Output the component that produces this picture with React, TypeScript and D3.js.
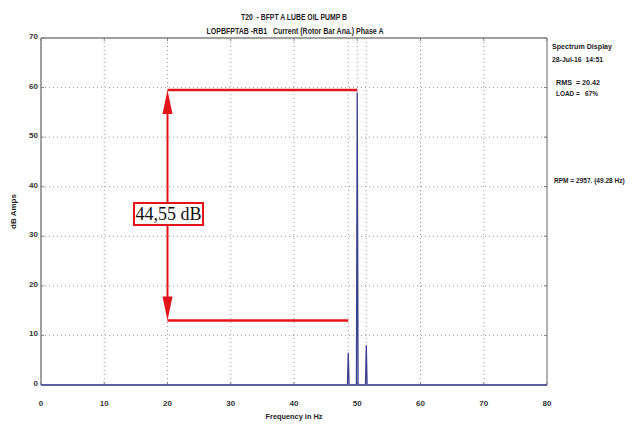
import * as d3 from 'd3'

// spectrum (Hz, dB)
const freqs = [0, 48.45, 48.58, 48.71, 49.87, 50.0, 50.13, 51.3, 51.43, 51.56, 80]
const amps = [0, 0, 6.5, 0, 0, 59, 0, 0, 8, 0, 0]

const xTicks = [0, 10, 20, 30, 40, 50, 60, 70, 80]
const yTicks = [0, 10, 20, 30, 40, 50, 60, 70]
const sidebandLines = [48.58, 51.43]

const titleLines = ['T20  - BFPT A LUBE OIL PUMP B', 'LOPBFPTAB -RB1   Current (Rotor Bar Ana.) Phase A']
const infoTop = ['Spectrum Display', '28-Jul-16  14:51']
const infoMid = ['RMS  = 20.42', 'LOAD =   67%']
const rpmText = 'RPM = 2957. (49.28 Hz)'

// measurement annotation
const markX = 20
const markTop = 59.5
const markBottom = 13
const markTopEnd = 50
const markBottomEnd = 48.58
const markLabel = '44,55 dB'

const W = 632
const H = 425
const margin = { top: 38, right: 85, bottom: 40, left: 41 }

export default function App() {
  const x = d3.scaleLinear().domain([0, 80]).range([margin.left, W - margin.right])
  const y = d3.scaleLinear().domain([0, 70]).range([H - margin.bottom, margin.top])

  const line = d3
    .line<number>()
    .x((_, i) => x(freqs[i]))
    .y((d) => y(d))

  const grid = '#9a9a9a'
  const axisCol = '#808080'
  const red = '#e3141a'
  const font = 'Liberation Sans, Arial, sans-serif'
  const pre = { whiteSpace: 'pre' as const }

  const ax = x(markX)
  const yT = y(markTop)
  const yB = y(markBottom)
  const ah = 24
  const aw = 5
  const midY = 214

  const infoTopLen = [60, 51]
  const infoMidLen = [44, 42]

  return (
    <svg width={W} height={H} style={{ position: 'absolute', left: 0, top: 0, background: '#fff' }}>
      {/* titles */}
      <text x={294} y={20} textAnchor="middle" fontFamily={font} fontWeight="bold" fontSize={9} textLength={106} lengthAdjust="spacingAndGlyphs" fill="#222" style={pre}>
        {titleLines[0]}
      </text>
      <text x={295} y={34} textAnchor="middle" fontFamily={font} fontWeight="bold" fontSize={9} textLength={177} lengthAdjust="spacingAndGlyphs" fill="#222" style={pre}>
        {titleLines[1]}
      </text>

      {/* gridlines */}
      {xTicks.slice(1, -1).map((t) => (
        <line key={'gx' + t} x1={x(t)} x2={x(t)} y1={y(70)} y2={y(0)} stroke={grid} strokeDasharray="1,3" />
      ))}
      {sidebandLines.map((t) => (
        <line key={'gs' + t} x1={x(t)} x2={x(t)} y1={y(70)} y2={y(0)} stroke={grid} strokeDasharray="1,3" />
      ))}
      {yTicks.slice(1, -1).map((t) => (
        <line key={'gy' + t} x1={x(0)} x2={x(80)} y1={y(t)} y2={y(t)} stroke={grid} strokeDasharray="1,3" />
      ))}

      {/* frame */}
      <line x1={x(0)} x2={x(0)} y1={y(70)} y2={y(0)} stroke={axisCol} strokeWidth={1.5} />
      <line x1={x(80)} x2={x(80)} y1={y(70)} y2={y(0)} stroke={axisCol} strokeWidth={1.2} />
      <line x1={x(0)} x2={x(80)} y1={y(70)} y2={y(70)} stroke={axisCol} strokeWidth={1.5} />
      {xTicks.map((t) => (
        <g key={'tx' + t}>
          <line x1={x(t)} x2={x(t)} y1={y(70)} y2={y(70) + 3} stroke={axisCol} />
          <line x1={x(t)} x2={x(t)} y1={y(0)} y2={y(0) - 3} stroke={axisCol} />
          <text x={x(t)} y={y(0) + 21} textAnchor="middle" fontFamily={font} fontWeight="bold" fontSize={8} fill="#333">
            {t}
          </text>
        </g>
      ))}
      {yTicks.map((t) => (
        <g key={'ty' + t}>
          <line x1={x(0)} x2={x(0) + 3} y1={y(t)} y2={y(t)} stroke={axisCol} />
          <line x1={x(80)} x2={x(80) - 3} y1={y(t)} y2={y(t)} stroke={axisCol} />
          <text x={x(0) - 3} y={y(t) + 1} textAnchor="end" fontFamily={font} fontWeight="bold" fontSize={8} fill="#333">
            {t}
          </text>
        </g>
      ))}

      {/* spectrum */}
      <path d={line(amps) ?? ''} fill="none" stroke="#3d3f8f" strokeWidth={1.3} />
      <line x1={x(0)} x2={x(80)} y1={y(0)} y2={y(0)} stroke="#5a5c9a" strokeWidth={1.5} />

      {/* axis titles */}
      <text x={294} y={419} textAnchor="middle" fontFamily={font} fontWeight="bold" fontSize={8} textLength={57} lengthAdjust="spacingAndGlyphs" fill="#222">
        Frequency in Hz
      </text>
      <text transform={`translate(16,${(y(0) + y(70)) / 2}) rotate(-90)`} textAnchor="middle" fontFamily={font} fontWeight="bold" fontSize={8} fill="#222">
        dB Amps
      </text>

      {/* info panel */}
      {infoTop.map((s, i) => (
        <text key={s} x={552} y={49 + i * 13} fontFamily={font} fontWeight="bold" fontSize={8} textLength={infoTopLen[i]} lengthAdjust="spacingAndGlyphs" fill="#222" style={pre}>
          {s}
        </text>
      ))}
      {infoMid.map((s, i) => (
        <text key={s} x={556} y={85 + i * 11} fontFamily={font} fontWeight="bold" fontSize={8} textLength={infoMidLen[i]} lengthAdjust="spacingAndGlyphs" fill="#222" style={pre}>
          {s}
        </text>
      ))}
      <text transform="translate(554,183) scale(0.82,1)" fontFamily={font} fontWeight="bold" fontSize={8} fill="#222">
        {rpmText}
      </text>

      {/* measurement annotation */}
      <g stroke={red} fill={red}>
        <line x1={ax} x2={x(markTopEnd)} y1={yT} y2={yT} strokeWidth={2.5} />
        <line x1={ax} x2={x(markBottomEnd)} y1={yB} y2={yB} strokeWidth={2.5} />
        <line x1={ax} x2={ax} y1={yT + ah - 2} y2={yB - ah + 2} strokeWidth={2} />
        <path d={`M${ax},${yT} L${ax - aw},${yT + ah} L${ax + aw},${yT + ah} Z`} stroke="none" />
        <path d={`M${ax},${yB} L${ax - aw},${yB - ah} L${ax + aw},${yB - ah} Z`} stroke="none" />
        <rect x={134} y={midY - 11} width={69} height={22} fill="#fff" strokeWidth={2} />
      </g>
      <text x={168.5} y={midY + 6} textAnchor="middle" fontFamily="Liberation Serif, Times New Roman, serif" fontSize={18} fill="#111">
        {markLabel}
      </text>
    </svg>
  )
}
